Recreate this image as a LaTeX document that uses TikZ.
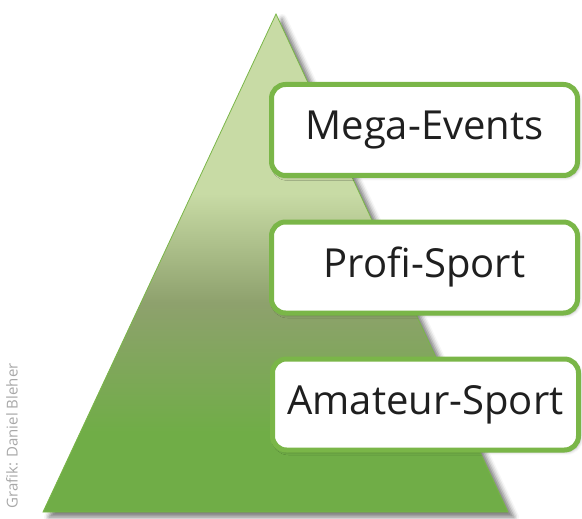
\documentclass[tikz,border=0pt]{standalone}
\usepackage{fontspec}
\setmainfont{Open Sans}
\usetikzlibrary{shadows.blur}
\definecolor{pgreen}{HTML}{7AB648}
\definecolor{ptop}{HTML}{C8DBA5}
\definecolor{pmid}{HTML}{8EA16D}
\definecolor{pbot}{HTML}{70AD47}
\definecolor{credit}{HTML}{A8A8A8}
\pgfdeclareverticalshading{pyramid}{100bp}{color(0bp)=(pbot); color(33bp)=(pbot); color(46bp)=(pmid); color(57bp)=(ptop); color(100bp)=(ptop)}
\begin{document}
\begin{tikzpicture}[x=1pt,y=-1pt,
  labelbox/.style={draw=pgreen, line width=5pt, fill=white, rounded corners=14pt,
    minimum width=306pt, minimum height=91pt, inner sep=0pt,
    font=\fontsize{40}{48}\selectfont, text=black!88,
    blur shadow={shadow xshift=2pt, shadow yshift=-2pt, shadow blur radius=3pt, shadow opacity=30}},
  pyr/.style={draw=pgreen, line width=0.8pt, shading=pyramid,
    blur shadow={shadow xshift=6pt, shadow yshift=-5pt, shadow blur radius=5pt, shadow opacity=55}}]
\useasboundingbox (0,0) rectangle (582,519);
\coordinate (apex) at (276,14);
\coordinate (bl) at (43,512);
\coordinate (br) at (508,512);
\path[pyr] (apex) -- (br) -- (bl) -- cycle;
\node[labelbox] (mega) at (424.5,130) {Mega-Events};
\node[labelbox] (profi) at (424.5,267.5) {Profi-Sport};
\node[labelbox] (amateur) at (425.5,404.5) {Amateur-Sport};
\node[rotate=90, text=credit, font=\fontsize{15}{18}\selectfont] (grafik) at (12,436) {Grafik: Daniel Bleher};
\end{tikzpicture}
\end{document}
